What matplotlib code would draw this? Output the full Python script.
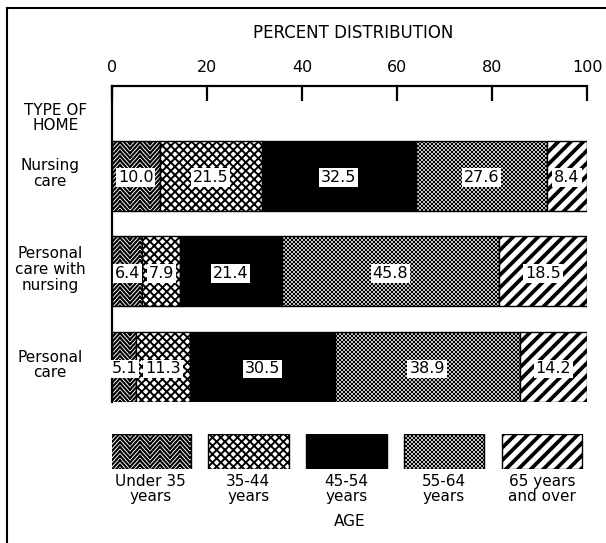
import warnings
warnings.filterwarnings("ignore")
import numpy as np
import matplotlib
matplotlib.use("Agg")
import matplotlib.pyplot as plt
import matplotlib.hatch as mhatch
from matplotlib.path import Path
from matplotlib.lines import Line2D

# ---------------- data ----------------
home_types = ["Nursing\ncare", "Personal\ncare with\nnursing", "Personal\ncare"]
age_groups = ["Under 35\nyears", "35-44\nyears", "45-54\nyears", "55-64\nyears", "65 years\nand over"]
under_35 = [10.0, 6.4, 5.1]
age_35_44 = [21.5, 7.9, 11.3]
age_45_54 = [32.5, 21.4, 30.5]
age_55_64 = [27.6, 45.8, 38.9]
age_65_over = [8.4, 18.5, 14.2]
x_ticks = [0, 20, 40, 60, 80, 100]

# ---------------- custom hatch patterns ----------------
def make_diag(char, m, sign):
    class _Diag(mhatch.HatchPatternBase):
        def __init__(self, hatch, density):
            self.m = hatch.count(char) * m
            self.num_vertices = (2 * self.m + 1) * 2 if self.m else 0

        def set_vertices_and_codes(self, vertices, codes):
            k = np.arange(-self.m, self.m + 1) / self.m
            if sign > 0:
                vertices[0::2, 0] = k
                vertices[0::2, 1] = 0.0
                vertices[1::2, 0] = k + 1
                vertices[1::2, 1] = 1.0
            else:
                vertices[0::2, 0] = k
                vertices[0::2, 1] = 1.0
                vertices[1::2, 0] = k + 1
                vertices[1::2, 1] = 0.0
            codes[0::2] = Path.MOVETO
            codes[1::2] = Path.LINETO
    return _Diag


class ZigZag(mhatch.HatchPatternBase):
    """Stacked chevron lines, drawn as separate segments (no fill area)."""
    N = 22
    TEETH = 5
    AMP = 0.055

    def __init__(self, hatch, density):
        c = hatch.count('z')
        self.n = c * self.N
        self.nseg = 2 * self.TEETH
        self.num_lines = self.n + 2 if c else 0
        self.num_vertices = self.num_lines * self.nseg * 2

    def set_vertices_and_codes(self, vertices, codes):
        xs = np.linspace(0, 1, self.nseg + 1)
        offs = np.where(np.arange(self.nseg + 1) % 2 == 0, self.AMP, -self.AMP)
        i = 0
        for k in range(self.num_lines):
            y0 = (k - 0.5) / self.n
            for s in range(self.nseg):
                vertices[i] = (xs[s], y0 + offs[s])
                vertices[i + 1] = (xs[s + 1], y0 + offs[s + 1])
                codes[i] = Path.MOVETO
                codes[i + 1] = Path.LINETO
                i += 2


mhatch._hatch_types.extend([
    ZigZag,
    make_diag('d', 8, +1),
    make_diag('c', 12, +1), make_diag('c', 12, -1),
    make_diag('q', 25, +1), make_diag('q', 25, -1),
])

# style per age group: (facecolor, hatch, hatch linewidth in pt)
styles = [
    ("white", "z", 1.5),
    ("white", "c", 1.4),
    ("black", None, 1.0),
    ("white", "q", 0.7),
    ("white", "d", 2.7),
]

FONT = "DejaVu Sans"
plt.rcParams["font.family"] = FONT

W, H = 606, 543
fig = plt.figure(figsize=(W / 100, H / 100), dpi=100)


def fx(px):
    return px / W


def fy(py):
    return 1 - py / H


# main axes: x 112..587, y 86..402 px
ax = fig.add_axes([fx(112), fy(402), fx(587) - fx(112), fy(86) - fy(402)])
ax.set_xlim(0, 100)
ax.set_ylim(2.365, -0.9375)

series = [under_35, age_35_44, age_45_54, age_55_64, age_65_over]
ypos = np.arange(len(home_types))
left = np.zeros(len(home_types))
bar_h = 0.73


def add_bar(axis, func, *args, style, **kw):
    fc, hatch, hlw = style
    plt.rcParams["hatch.linewidth"] = hlw
    bars = func(*args, color=fc, edgecolor="black", linewidth=1.0, hatch=hatch, **kw)
    for p in bars:
        if hasattr(p, "set_hatch_linewidth"):
            p.set_hatch_linewidth(hlw)
    return bars


for vals, st in zip(series, styles):
    vals = np.array(vals)
    add_bar(ax, ax.barh, ypos, vals, style=st, left=left, height=bar_h)
    for yi, (l, v) in enumerate(zip(left, vals)):
        ax.text(l + v / 2, yi + 0.02, f"{v:.1f}", ha="center", va="center",
                fontsize=11.5, color="black",
                bbox=dict(boxstyle="square,pad=0.12", fc="white", ec="none"))
    left = left + vals

for s in ["right", "bottom"]:
    ax.spines[s].set_visible(False)
for s in ["top", "left"]:
    ax.spines[s].set_linewidth(1.6)

ax.xaxis.tick_top()
ax.set_xticks(x_ticks)
ax.set_xticklabels([str(t) for t in x_ticks])
ax.tick_params(axis="x", direction="in", length=11, width=1.6, pad=8, labelsize=11.5)
ax.set_yticks([])

# category labels
for yi, lab in enumerate(home_types):
    ax.text(-13.0, yi - 0.02, lab, ha="center", va="center", fontsize=11,
            linespacing=1.05, transform=ax.transData)

fig.text(fx(56), fy(118), "TYPE OF\nHOME", ha="center", va="center", fontsize=11,
         linespacing=1.05)
fig.text(fx(353), fy(33), "PERCENT DISTRIBUTION", ha="center", va="center", fontsize=12)

# legend axes
lax = fig.add_axes([fx(112), fy(469), fx(587) - fx(112), fy(434) - fy(469)])
lax.set_xlim(0, 100)
lax.set_ylim(0, 1)
lax.axis("off")
box_w = 17.0
for i, (lab, st) in enumerate(zip(age_groups, styles)):
    x0 = i * 20.6 - 0.4
    add_bar(lax, lax.bar, [x0], [1.0], style=st, width=box_w, align="edge")
    lax.text(x0 + box_w / 2, -0.13, lab, ha="center", va="top", fontsize=11,
             linespacing=1.05, transform=lax.transData, clip_on=False)

fig.text(fx(350), fy(522), "AGE", ha="center", va="center", fontsize=11)

# outer frame lines
fig.add_artist(Line2D([fx(7), 1.0], [fy(8), fy(8)], color="black", lw=1.5))
fig.add_artist(Line2D([fx(7), fx(7)], [fy(8), 0.0], color="black", lw=1.5))

fig.savefig("out.png", dpi=100)
